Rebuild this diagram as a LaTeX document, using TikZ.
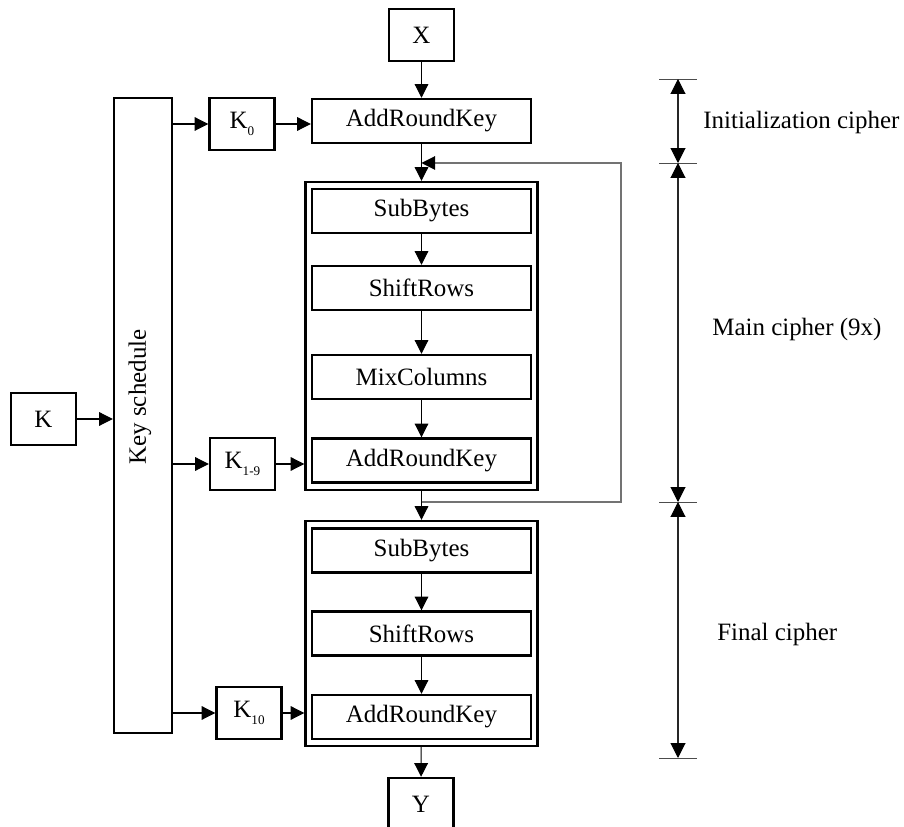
\documentclass[tikz,border=0pt]{standalone}
\usepackage{fontspec}
\setmainfont{Liberation Serif}
\usetikzlibrary{arrows.meta,calc}
\newcommand{\ksub}[1]{\raisebox{-4pt}{\fontsize{7.5}{8}\selectfont #1}}
\tikzset{
  blk/.style={draw, line width=1.4pt, inner sep=0pt, minimum width=4.38cm, minimum height=0.88cm},
  keybox/.style={draw, line width=1.4pt, inner sep=0pt, minimum width=1.3cm, minimum height=1.04cm},
  stagebox/.style={draw, line width=1.4pt, inner sep=0pt, minimum width=4.64cm},
  arr/.style={line width=0.6pt, -{Triangle[length=7.8pt,width=7.8pt]}},
  fbline/.style={line width=0.6pt, draw=black!55, -{Triangle[length=7.8pt,width=7.8pt,color=black]}},
  dimline/.style={line width=0.6pt, draw=black!85, {Triangle[length=8.5pt,width=8.5pt,color=black]}-{Triangle[length=8.5pt,width=8.5pt,color=black]}},
  tickline/.style={line width=0.5pt, draw=black!70},
  lbl/.style={inner sep=0pt, anchor=west},
}

\begin{document}
\begin{tikzpicture}[x=0.02cm, y=-0.02cm, font=\fontsize{14.2}{17}\selectfont]
		%%%%% START %%%%%
		\useasboundingbox (0,0) rectangle (904,827);
		
		\node[keybox] (X) at (421.5,35) {X};
		\node[blk] (ark0) at (421.5,121) {AddRoundKey};
		
		\node[stagebox, minimum height=6.16cm] (main) at (421.5,336) {};
		\node[blk] (sub1) at (421.5,211) {SubBytes};
		\node[blk] (shift1) at (421.5,288) {ShiftRows};
		\node[blk] (mix1) at (421.5,377) {MixColumns};
		\node[blk] (ark1) at (421.5,460.5) {AddRoundKey};
		
		\node[stagebox, minimum height=4.5cm] (final) at (421.5,633.5) {};
		\node[blk] (sub2) at (421.5,550.5) {SubBytes};
		\node[blk] (shift2) at (421.5,633.5) {ShiftRows};
		\node[blk] (ark2) at (421.5,717) {AddRoundKey};
		
		\node[keybox] (Y) at (421,804) {Y};
		
		\node[keybox] (K) at (43.5,419) {K};
		\node[draw, line width=1.4pt, inner sep=0pt, minimum width=1.16cm, minimum height=12.7cm] (KS) at (143,415.5) {};
		\node[rotate=90] (KStext) at (140,397) {Key schedule};
		
		\node[keybox] (K0) at (242,124) {K\ksub{0}};
		\node[keybox] (K19) at (242.5,464) {K\ksub{1-9}};
		\node[keybox] (K10) at (249,713) {K\ksub{10}};
		
		\draw[arr] (X) -- (ark0);
		\draw[arr] (ark0) -- (main);
		\draw[arr] (sub1) -- (shift1);
		\draw[arr] (shift1) -- (mix1);
		\draw[arr] (mix1) -- (ark1);
		\draw[arr] (main) -- (final);
		\draw[arr] (sub2) -- (shift2);
		\draw[arr] (shift2) -- (ark2);
		\draw[arr] (final) -- (Y);
		
		\draw[arr] (K) -- (K -| KS.west);
		\draw[arr] (K0 -| KS.east) -- (K0);
		\draw[arr] (K0) -- (K0 -| ark0.west);
		\draw[arr] (K19 -| KS.east) -- (K19);
		\draw[arr] (K19) -- (K19 -| main.west);
		\draw[arr] (K10 -| KS.east) -- (K10);
		\draw[arr] (K10) -- (K10 -| final.west);
		
		\coordinate (fbout) at (421.5,502);
		\coordinate (fbin) at (421.5,163);
		\coordinate (fbtop) at (621,163);
		\draw[fbline] (fbout) -| (fbtop) -- (fbin);
		
		\coordinate (d0) at (678,79);
		\coordinate (d1) at (678,163);
		\coordinate (d2) at (678,502);
		\coordinate (d3) at (678,758);
		\foreach \p in {d0,d1,d2,d3}
			\draw[tickline] ($(\p)+(-19,0)$) -- ($(\p)+(19,0)$);
		\draw[dimline] (d0) -- (d1);
		\draw[dimline] (d1) -- (d2);
		\draw[dimline] (d2) -- (d3);
		
		\node[lbl] (initlbl) at (703,123) {Initialization cipher};
		\node[lbl] (mainlbl) at (712,330) {Main cipher (9x)};
		\node[lbl] (finallbl) at (717,635) {Final cipher};
		
		%%%%% END %%%%%
\end{tikzpicture}
\end{document}
